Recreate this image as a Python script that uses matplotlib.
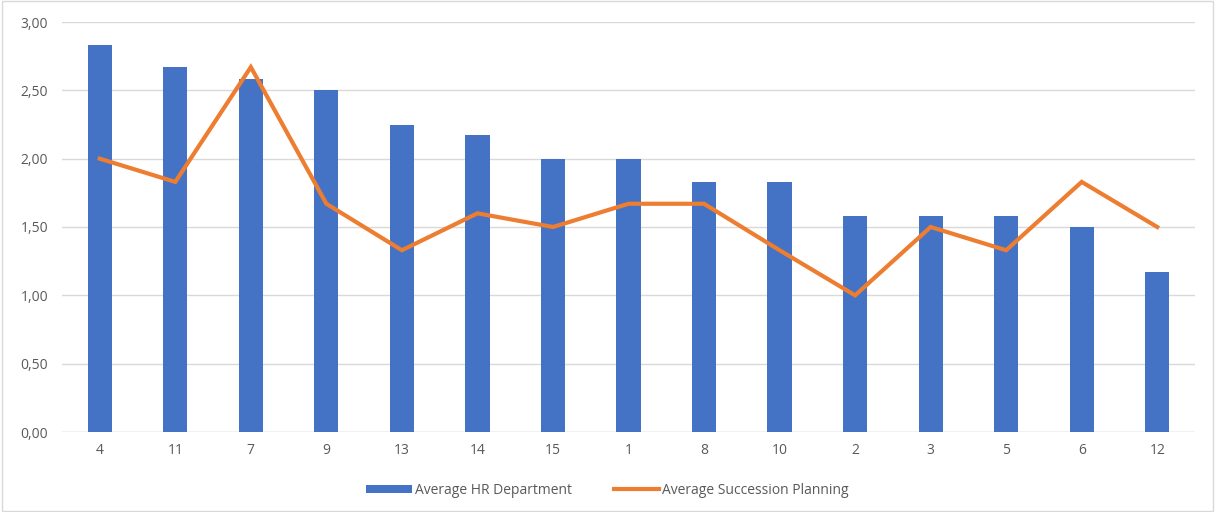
import matplotlib
matplotlib.use("Agg")
import matplotlib.pyplot as plt
from matplotlib.patches import Rectangle
import numpy as np

categories = ["4", "11", "7", "9", "13", "14", "15", "1", "8", "10", "2", "3", "5", "6", "12"]
hr_department = [2.83, 2.67, 2.58, 2.50, 2.25, 2.17, 2.00, 2.00, 1.83, 1.83, 1.58, 1.58, 1.58, 1.50, 1.17]
succession_planning = [2.00, 1.83, 2.67, 1.67, 1.33, 1.60, 1.50, 1.67, 1.67, 1.33, 1.00, 1.50, 1.33, 1.83, 1.50]

plt.rcParams['font.family'] = ['Open Sans', 'DejaVu Sans']

fig = plt.figure(figsize=(12.15, 5.12), dpi=100)
ax = fig.add_axes([62 / 1215, 1 - 432 / 512, (1195 - 62) / 1215, 410 / 512])

x = np.arange(len(categories))
bars = ax.bar(x, hr_department, width=0.32, color="#4472C4", label="Average HR Department", zorder=2)
line, = ax.plot(x, succession_planning, color="#ED7D31", linewidth=3, label="Average Succession Planning",
                zorder=3, solid_joinstyle="miter")

ax.set_xlim(-0.5, len(categories) - 0.5)
ax.set_ylim(0, 3)
ax.set_yticks(np.arange(0, 3.01, 0.5))
ax.set_yticklabels([f"{v:.2f}".replace(".", ",") for v in np.arange(0, 3.01, 0.5)])
ax.set_xticks(x)
ax.set_xticklabels(categories)
ax.tick_params(colors="#595959", labelsize=10, length=0, pad=8)
ax.tick_params(axis="y", pad=10)
ax.grid(axis="y", color="#D9D9D9", linewidth=1, zorder=0)
for s in ax.spines.values():
    s.set_visible(False)
ax.axhline(0, color="#D9D9D9", linewidth=1, zorder=1)

leg = fig.legend(handles=[bars, line], loc="center", bbox_to_anchor=(0.5, 1 - 490 / 512), ncol=2,
                 frameon=False, fontsize=10, handlelength=3.3, handleheight=0.5,
                 handletextpad=0.2, columnspacing=3)
for t in leg.get_texts():
    t.set_color("#595959")

fig.patches.append(Rectangle((0.002, 0.002), 0.996, 0.996, transform=fig.transFigure,
                             fill=False, edgecolor="#D9D9D9", linewidth=1))

fig.savefig("out.png", dpi=100)
